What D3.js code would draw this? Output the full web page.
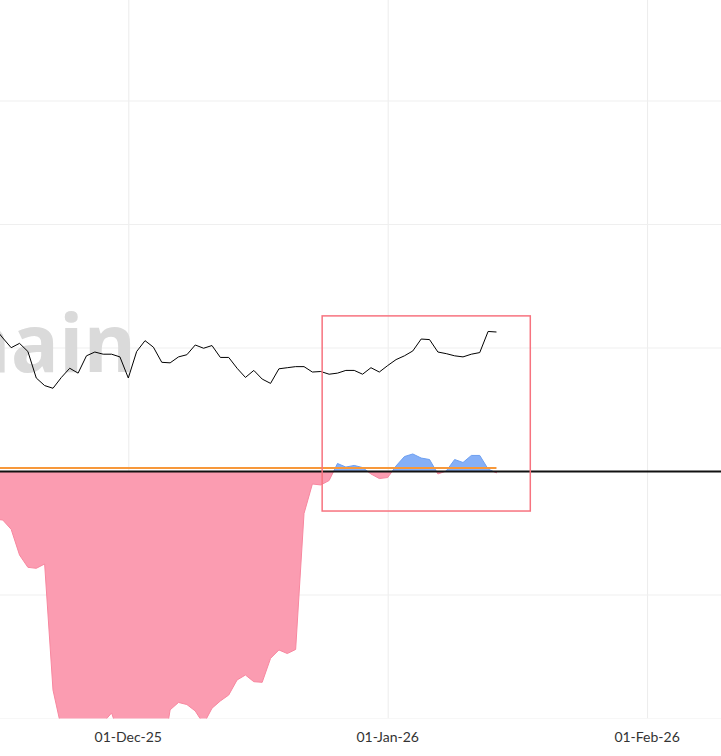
<!DOCTYPE html>
<html lang="en">
<head>
<meta charset="utf-8">
<title>Oscillator vs Price</title>
<script src="https://d3js.org/d3.v7.min.js"></script>
<style>
  body { margin: 0; background: #fff; }
  svg { display: block; }
</style>
</head>
<body>
<svg id="chart" width="721" height="756"></svg>
<script>
// ---- data (daily, 15-Nov-25 .. 14-Jan-26) ----
var startDay = "2025-11-15"
var endDay = "2026-01-15"

// price (k USD), black line
var price = [95.9, 94.0, 92.2, 93.0, 91.5, 86.6, 85.2, 84.7, 86.7, 88.4, 87.5, 90.7, 91.4, 91.0, 91.0, 90.5,
  86.6, 91.5, 93.5, 92.3, 89.5, 89.4, 90.5, 90.9, 92.7, 92.1, 92.6, 90.4, 90.4, 88.4, 86.7, 88.0, 86.4, 85.6,
  88.3, 88.5, 88.7, 88.7, 87.7, 87.8, 87.3, 87.5, 88.0, 88.0, 87.3, 88.5, 87.7,
  88.9, 90.0, 90.7, 91.6, 93.8, 93.7, 91.4, 91.1, 90.7, 90.5, 91.0, 91.3, 95.2, 95.1]

// oscillator, pink below zero / blue above zero
var osc = [-0.385, -0.393, -0.468, -0.676, -0.776, -0.784, -0.749, -1.769, -2.077, -2.34, -2.58, -2.66, -2.42, -2.034, -1.955, -2.15,
  -2.58, -2.82, -2.90, -2.66, -2.34, -1.93, -1.870, -1.887, -1.939, -2.045, -1.917, -1.858, -1.810, -1.688, -1.648,
  -1.702, -1.707, -1.513, -1.445, -1.474, -1.441, -0.340, -0.101, -0.109, -0.073, 0.065, 0.036, 0.049, 0.032, -0.020, -0.057,
  -0.049, 0.045, 0.121, 0.142, 0.109, 0.097, -0.020, 0.004, 0.097, 0.073, 0.130, 0.130, 0.020, -0.012]

var threshold = 0.028

// x ticks and highlight box
var xTicks = ["2025-12-01", "2026-01-01", "2026-02-01"]
var gridVals = [-2, -1, 0, 1, 2, 3]
var boxDates = ["2025-12-24T04:00", "2026-01-18T01:00"]
var boxOsc = [-0.32, 1.26]

var parse = d3.utcParse("%Y-%m-%d")
var parseT = d3.utcParse("%Y-%m-%dT%H:%M")
var days = d3.utcDay.range(parse(startDay), parse(endDay))
var data = days.map((d, i) => ({date: d, price: price[i], osc: osc[i]}))

// ---- layout ----
var W = 721, H = 756
var plotTop = 0, plotBottom = 718.5

var x = d3.scaleUtc()
  .domain([parseT("2025-11-15T16:00"), parseT("2026-02-09T20:00")])
  .range([0, W])
var y = d3.scaleLinear().domain([-2, 3]).range([plotBottom, 101])
var yPrice = d3.scaleLinear().domain([80, 100]).range([413.7, 305.5])

var svg = d3.select("#chart")

var defs = svg.append("defs")
defs.append("clipPath").attr("id", "plot")
  .append("rect").attr("x", 0).attr("y", plotTop).attr("width", W).attr("height", plotBottom - plotTop)
defs.append("clipPath").attr("id", "above")
  .append("rect").attr("x", 0).attr("y", plotTop).attr("width", W).attr("height", y(0) - plotTop)
defs.append("clipPath").attr("id", "below")
  .append("rect").attr("x", 0).attr("y", y(0)).attr("width", W).attr("height", plotBottom - y(0))

// grid
var grid = svg.append("g").attr("clip-path", "url(#plot)")
grid.selectAll(".vg").data(xTicks).enter().append("line")
  .attr("x1", d => x(parse(d)) + 0.5).attr("x2", d => x(parse(d)) + 0.5)
  .attr("y1", plotTop).attr("y2", plotBottom)
  .attr("stroke", "#ececec").attr("stroke-width", 1)
grid.selectAll(".hg").data(gridVals).enter().append("line")
  .attr("x1", 0).attr("x2", W)
  .attr("y1", d => y(d)).attr("y2", d => y(d))
  .attr("stroke", "#efefef").attr("stroke-width", 1)

// watermark
svg.append("text")
  .attr("x", 136).attr("y", 372)
  .attr("text-anchor", "end")
  .attr("font-family", "'Open Sans', sans-serif")
  .attr("font-weight", 700)
  .attr("font-size", 80)
  .attr("fill", "#dadada")
  .text("checkonchain")

// oscillator areas
var area = d3.area()
  .x(d => x(d.date))
  .y0(y(0))
  .y1(d => y(d.osc))

var plotG = svg.append("g").attr("clip-path", "url(#plot)")
plotG.append("g").attr("clip-path", "url(#below)")
  .append("path").datum(data)
  .attr("d", area)
  .attr("fill", "#fb9cb1")
  .attr("stroke", "#f7879f")
  .attr("stroke-width", 1)
plotG.append("g").attr("clip-path", "url(#above)")
  .append("path").datum(data)
  .attr("d", area)
  .attr("fill", "#86b0f7")
  .attr("stroke", "#6d9ff0")
  .attr("stroke-width", 1)

// zero line
svg.append("line")
  .attr("x1", 0).attr("x2", W)
  .attr("y1", y(0)).attr("y2", y(0))
  .attr("stroke", "#111").attr("stroke-width", 2)

// threshold line (orange)
plotG.append("line")
  .attr("x1", x(days[0])).attr("x2", x(days[days.length - 1]))
  .attr("y1", y(threshold)).attr("y2", y(threshold))
  .attr("stroke", "#f7983a").attr("stroke-width", 2)

// price line
plotG.append("path").datum(data)
  .attr("d", d3.line().x(d => x(d.date)).y(d => yPrice(d.price)))
  .attr("fill", "none")
  .attr("stroke", "#000")
  .attr("stroke-width", 1)

// highlight box
svg.append("rect")
  .attr("x", x(parseT(boxDates[0])))
  .attr("y", y(boxOsc[1]))
  .attr("width", x(parseT(boxDates[1])) - x(parseT(boxDates[0])))
  .attr("height", y(boxOsc[0]) - y(boxOsc[1]))
  .attr("fill", "none")
  .attr("stroke", "#f7737f")
  .attr("stroke-width", 1.5)

// x axis labels
var fmt = d3.utcFormat("%d-%b-%y")
svg.append("g").selectAll("text").data(xTicks).enter().append("text")
  .attr("x", d => x(parse(d)))
  .attr("y", 742)
  .attr("text-anchor", "middle")
  .attr("font-family", "Lato, sans-serif")
  .attr("font-size", 14)
  .attr("fill", "#333")
  .text(d => fmt(parse(d)))
</script>
</body>
</html>
